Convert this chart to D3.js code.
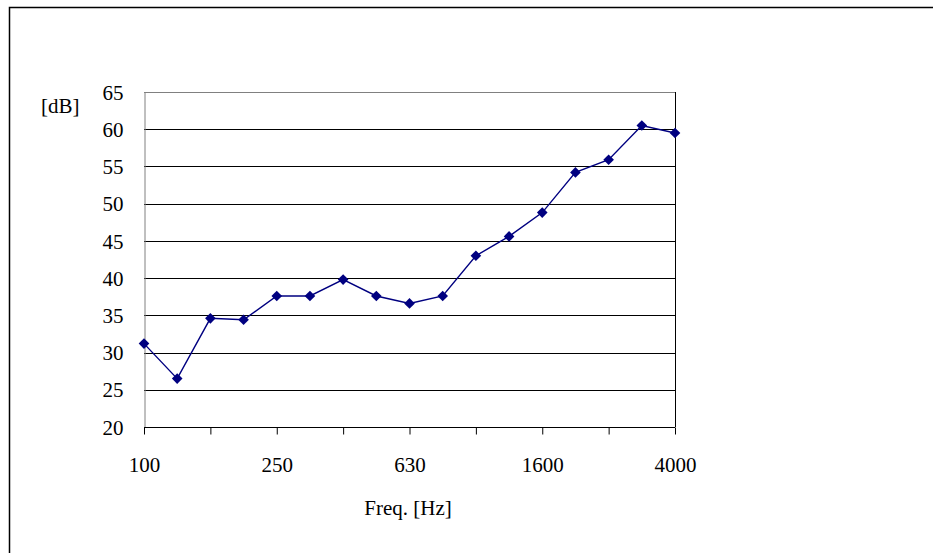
<!DOCTYPE html>
<html><head><meta charset="utf-8">
<script src="https://cdn.jsdelivr.net/npm/d3@7"></script>
<style>body{margin:0;background:#fff}svg{display:block}text{font-family:"Liberation Serif","DejaVu Serif",serif;fill:#000}</style>
</head><body><svg id="c" width="933" height="553"></svg>
<script>
const categories = ["100","125","160","200","250","315","400","500","630","800","1000","1250","1600","2000","2500","3150","4000"];
const values = [31.2, 26.5, 34.6, 34.4, 37.6, 37.6, 39.8, 37.6, 36.6, 37.6, 43.0, 45.6, 48.8, 54.2, 55.9, 60.5, 59.5];
const yTicks = [20,25,30,35,40,45,50,55,60,65];
const xLabels = ["100","250","630","1600","4000"];
const xTickCats = ["100","160","250","400","630","1000","1600","2500","4000"];

const FS = 21;
const svg = d3.select("#c");
const L=144,R=675,T=92,B=427;
svg.append("rect").attr("x",9.5).attr("y",7.5).attr("width",940).attr("height",560).attr("fill","none").attr("stroke","#000").attr("stroke-width",1.5);

const x = d3.scalePoint().domain(categories).range([L,R]);
const y = d3.scaleLinear().domain([20,65]).range([B,T]);

// gridlines
svg.append("g").selectAll("line").data(yTicks.filter(v=>v>20&&v<65)).join("line")
  .attr("x1",L).attr("x2",R).attr("y1",d=>Math.round(y(d))+0.5).attr("y2",d=>Math.round(y(d))+0.5)
  .attr("stroke","#000").attr("stroke-width",1);
// plot border
svg.append("line").attr("x1",L).attr("x2",R).attr("y1",T+0.5).attr("y2",T+0.5).attr("stroke","#808080");
svg.append("line").attr("x1",R+0.5).attr("x2",R+0.5).attr("y1",T).attr("y2",B).attr("stroke","#000");

// y axis
const ya = svg.append("g").attr("transform",`translate(${L+0.5},0)`)
  .call(d3.axisLeft(y).tickValues(yTicks).tickSize(0).tickPadding(21));
ya.attr("font-family",null);
ya.select(".domain").attr("stroke","#808080");
ya.selectAll("text").attr("font-size",FS).attr("dy","0.34em");

// x axis
const xa = svg.append("g").attr("transform",`translate(0,${B+0.5})`)
  .call(d3.axisBottom(x).tickValues(xTickCats).tickSize(7).tickPadding(30).tickFormat(d=>xLabels.includes(d)?d:""));
xa.attr("font-family",null);
xa.select(".domain").attr("stroke","#000").attr("d",`M${L},0H${R}`);
xa.selectAll(".tick line").attr("stroke","#000");
xa.selectAll("text").attr("font-size",FS).attr("dy","0.34em");

// line
svg.append("path").datum(values).attr("fill","none").attr("stroke","#000080").attr("stroke-width",1.4)
  .attr("d",d3.line().x((d,i)=>x(categories[i])).y(d=>y(d)));
svg.append("g").selectAll("path").data(values).join("path")
  .attr("transform",(d,i)=>`translate(${x(categories[i])},${y(d)})`)
  .attr("d",d3.symbol(d3.symbolDiamond2,72)).attr("fill","#000080");

svg.append("text").attr("x",41).attr("y",113).attr("font-size",FS).text("[dB]");
svg.append("text").attr("x",408).attr("y",515).attr("font-size",FS).attr("text-anchor","middle").text("Freq. [Hz]");
</script></body></html>
